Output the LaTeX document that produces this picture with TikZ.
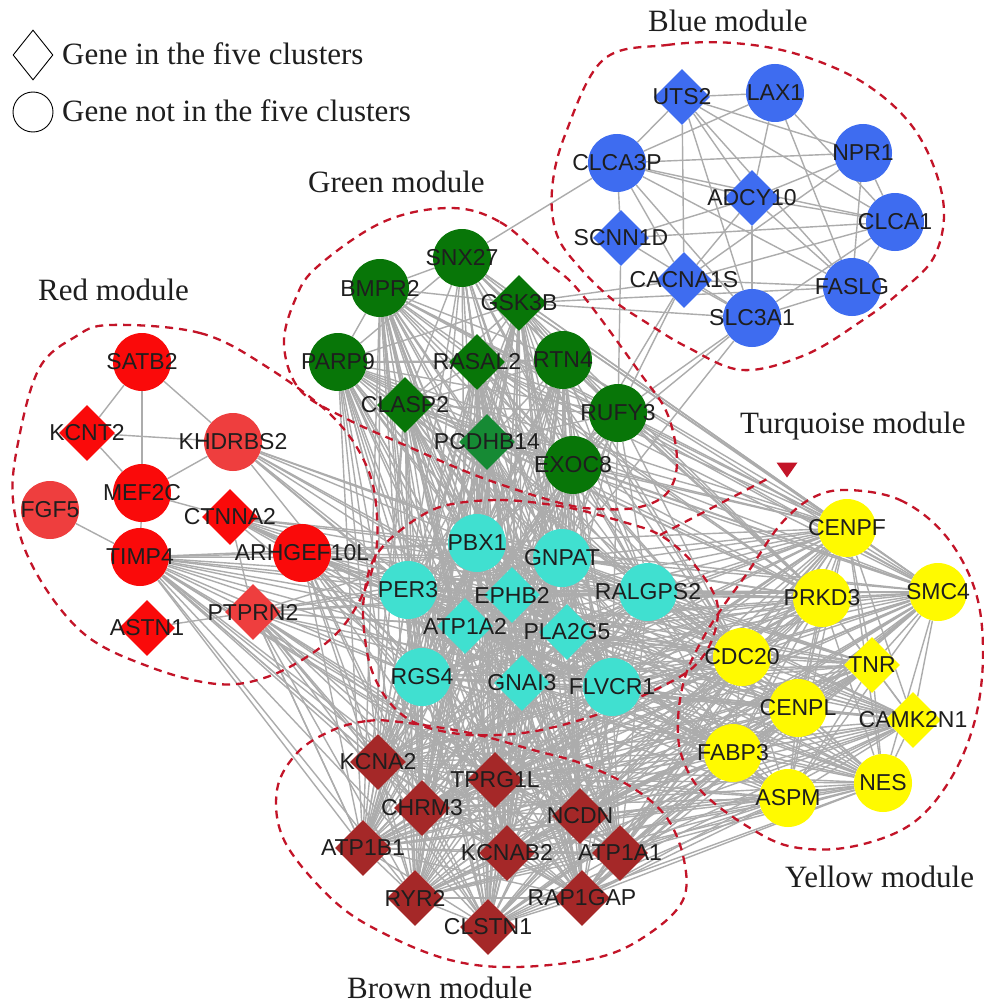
\documentclass[tikz,border=0pt]{standalone}
\usepackage{fontspec}
\setmainfont{Liberation Serif}
\newfontfamily\arialf{Liberation Sans}
\usetikzlibrary{shapes.geometric}
\definecolor{cblue}{RGB}{62,108,240}
\definecolor{cgreen}{RGB}{8,118,8}
\definecolor{cgreenl}{RGB}{22,138,52}
\definecolor{cred}{RGB}{250,10,10}
\definecolor{credl}{RGB}{238,62,62}
\definecolor{cturq}{RGB}{64,224,208}
\definecolor{cyell}{RGB}{255,250,0}
\definecolor{cbrown}{RGB}{165,40,40}
\definecolor{dred}{RGB}{195,20,40}
\definecolor{edgec}{RGB}{172,172,172}
\definecolor{txt}{RGB}{30,30,30}
\pgfdeclarelayer{edgelayer}
\pgfdeclarelayer{outlayer}
\pgfsetlayers{edgelayer,outlayer,main}
\newcommand\mycomplete[1]{%
  \foreach \a [count=\i] in #1{%
    \foreach \b [count=\j] in #1{%
      \ifnum\j>\i \draw[edge] (\a) -- (\b);\fi}}}
\newcommand\mybip[2]{%
  \foreach \a in #1{\foreach \b in #2{\draw[edge] (\a) -- (\b);}}}
\def\Blist{UTS2,LAX1,NPR1,CLCA3P,ADCY10,CLCA1,SCNN1D,CACNA1S,FASLG,SLC3A1}
\def\Glist{SNX27,BMPR2,GSK3B,PARP9,RASAL2,RTN4,CLASP2,RUFY3,PCDHB14,EXOC8}
\def\Tlist{PBX1,GNPAT,PER3,EPHB2,RALGPS2,ATP1A2,PLA2G5,RGS4,GNAI3,FLVCR1}
\def\Ylist{CENPF,SMC4,PRKD3,CDC20,TNR,CENPL,CAMK2N1,FABP3,NES,ASPM}
\def\Brlist{KCNA2,TPRG1L,CHRM3,NCDN,ATP1B1,KCNAB2,ATP1A1,RYR2,RAP1GAP,CLSTN1}
\def\Rsub{KHDRBS2,CTNNA2,TIMP4,ARHGEF10L,PTPRN2}
\def\Rsubb{TIMP4,ARHGEF10L,PTPRN2}
\def\Gsubb{BMPR2,PARP9,CLASP2,RASAL2,PCDHB14,RTN4,EXOC8,GSK3B}
\def\Ysub{CENPF,SMC4,PRKD3,CDC20}
\begin{document}
\begin{tikzpicture}[x=1pt,y=-1pt,
  circ/.style={circle,minimum size=58pt,inner sep=0pt,draw=none},
  diam/.style={diamond,minimum width=56pt,minimum height=56pt,inner sep=0pt,draw=none},
  lab/.style={font=\arialf\fontsize{23}{23}\selectfont,text=txt,inner sep=0pt},
  edge/.style={draw=edgec,line width=1.4pt},
  outl/.style={draw=dred,line width=2.3pt,dash pattern=on 8pt off 6pt},
  modlab/.style={font=\fontsize{31}{31}\selectfont,text=txt,inner sep=0pt,anchor=base west},
]
\useasboundingbox (0,0) rectangle (984,1006);
% ---------- legend ----------
\node[diamond,draw=black,line width=0.9pt,minimum width=40pt,minimum height=50pt,inner sep=0pt] (legd) at (33,55) {};
\node[circle,draw=black,line width=0.9pt,minimum size=40pt,inner sep=0pt] (legc) at (33,112) {};
\node[modlab] (legdt) at (62,65) {Gene in the five clusters};
\node[modlab] (legct) at (62,122) {Gene not in the five clusters};
% ---------- module labels ----------
\node[modlab] (mblue) at (648,32) {Blue module};
\node[modlab] (mgreen) at (308,192) {Green module};
\node[modlab] (mred) at (38,300) {Red module};
\node[modlab] (mturq) at (740,433) {Turquoise module};
\node[modlab] (myell) at (785,887) {Yellow module};
\node[modlab] (mbrown) at (347,998) {Brown module};
% ---------- blue ----------
\node[diam,fill=cblue,label={[lab]center:UTS2}] (UTS2) at (682,97) {};
\node[circ,fill=cblue,label={[lab]center:LAX1}] (LAX1) at (775,93) {};
\node[circ,fill=cblue,label={[lab]center:NPR1}] (NPR1) at (863,153) {};
\node[circ,fill=cblue,label={[lab]center:CLCA3P}] (CLCA3P) at (617,163) {};
\node[diam,fill=cblue,label={[lab]center:ADCY10}] (ADCY10) at (752,198) {};
\node[circ,fill=cblue,label={[lab]center:CLCA1}] (CLCA1) at (895,222) {};
\node[diam,fill=cblue,label={[lab]center:SCNN1D}] (SCNN1D) at (621,238) {};
\node[diam,fill=cblue,label={[lab]center:CACNA1S}] (CACNA1S) at (684,280) {};
\node[circ,fill=cblue,label={[lab]center:FASLG}] (FASLG) at (852,287) {};
\node[circ,fill=cblue,label={[lab]center:SLC3A1}] (SLC3A1) at (752,318) {};
% ---------- green ----------
\node[circ,fill=cgreen,label={[lab]center:SNX27}] (SNX27) at (462,258) {};
\node[circ,fill=cgreen,label={[lab]center:BMPR2}] (BMPR2) at (380,288) {};
\node[diam,fill=cgreen,label={[lab]center:GSK3B}] (GSK3B) at (519,303) {};
\node[circ,fill=cgreen,label={[lab]center:PARP9}] (PARP9) at (338,362) {};
\node[diam,fill=cgreen,label={[lab]center:RASAL2}] (RASAL2) at (477,362) {};
\node[circ,fill=cgreen,label={[lab]center:RTN4}] (RTN4) at (563,360) {};
\node[diam,fill=cgreen,label={[lab]center:CLASP2}] (CLASP2) at (405,405) {};
\node[circ,fill=cgreen,label={[lab]center:RUFY3}] (RUFY3) at (618,413) {};
\node[diam,fill=cgreenl,label={[lab]center:PCDHB14}] (PCDHB14) at (487,442) {};
\node[circ,fill=cgreen,label={[lab]center:EXOC8}] (EXOC8) at (573,465) {};
% ---------- red ----------
\node[circ,fill=cred,label={[lab]center:SATB2}] (SATB2) at (142,362) {};
\node[diam,fill=cred,label={[lab]center:KCNT2}] (KCNT2) at (87,433) {};
\node[circ,fill=credl,label={[lab]center:KHDRBS2}] (KHDRBS2) at (233,442) {};
\node[circ,fill=cred,label={[lab]center:MEF2C}] (MEF2C) at (142,493) {};
\node[circ,fill=credl,label={[lab]center:FGF5}] (FGF5) at (50,510) {};
\node[diam,fill=cred,label={[lab]center:CTNNA2}] (CTNNA2) at (230,517) {};
\node[circ,fill=cred,label={[lab]center:TIMP4}] (TIMP4) at (140,557) {};
\node[circ,fill=cred,label={[lab]center:ARHGEF10L}] (ARHGEF10L) at (302,553) {};
\node[diam,fill=credl,label={[lab]center:PTPRN2}] (PTPRN2) at (253,612) {};
\node[diam,fill=cred,label={[lab]center:ASTN1}] (ASTN1) at (147,628) {};
% ---------- turquoise ----------
\node[circ,fill=cturq,label={[lab]center:PBX1}] (PBX1) at (477,543) {};
\node[circ,fill=cturq,label={[lab]center:GNPAT}] (GNPAT) at (562,558) {};
\node[circ,fill=cturq,label={[lab]center:PER3}] (PER3) at (408,590) {};
\node[diam,fill=cturq,label={[lab]center:EPHB2}] (EPHB2) at (512,595) {};
\node[circ,fill=cturq,label={[lab]center:RALGPS2}] (RALGPS2) at (648,592) {};
\node[diam,fill=cturq,label={[lab]center:ATP1A2}] (ATP1A2) at (465,626) {};
\node[diam,fill=cturq,label={[lab]center:PLA2G5}] (PLA2G5) at (567,632) {};
\node[circ,fill=cturq,label={[lab]center:RGS4}] (RGS4) at (422,677) {};
\node[diam,fill=cturq,label={[lab]center:GNAI3}] (GNAI3) at (522,683) {};
\node[circ,fill=cturq,label={[lab]center:FLVCR1}] (FLVCR1) at (612,687) {};
% ---------- yellow ----------
\node[circ,fill=cyell,label={[lab]center:CENPF}] (CENPF) at (847,528) {};
\node[circ,fill=cyell,label={[lab]center:SMC4}] (SMC4) at (938,592) {};
\node[circ,fill=cyell,label={[lab]center:PRKD3}] (PRKD3) at (822,598) {};
\node[circ,fill=cyell,label={[lab]center:CDC20}] (CDC20) at (742,657) {};
\node[diam,fill=cyell,label={[lab]center:TNR}] (TNR) at (872,665) {};
\node[circ,fill=cyell,label={[lab]center:CENPL}] (CENPL) at (798,708) {};
\node[diam,fill=cyell,label={[lab]center:CAMK2N1}] (CAMK2N1) at (913,720) {};
\node[circ,fill=cyell,label={[lab]center:FABP3}] (FABP3) at (733,753) {};
\node[circ,fill=cyell,label={[lab]center:NES}] (NES) at (883,783) {};
\node[circ,fill=cyell,label={[lab]center:ASPM}] (ASPM) at (788,798) {};
% ---------- brown ----------
\node[diam,fill=cbrown,label={[lab]center:KCNA2}] (KCNA2) at (378,762) {};
\node[diam,fill=cbrown,label={[lab]center:TPRG1L}] (TPRG1L) at (495,780) {};
\node[diam,fill=cbrown,label={[lab]center:CHRM3}] (CHRM3) at (422,808) {};
\node[diam,fill=cbrown,label={[lab]center:NCDN}] (NCDN) at (580,816) {};
\node[diam,fill=cbrown,label={[lab]center:ATP1B1}] (ATP1B1) at (363,848) {};
\node[diam,fill=cbrown,label={[lab]center:KCNAB2}] (KCNAB2) at (507,853) {};
\node[diam,fill=cbrown,label={[lab]center:ATP1A1}] (ATP1A1) at (620,853) {};
\node[diam,fill=cbrown,label={[lab]center:RYR2}] (RYR2) at (415,898) {};
\node[diam,fill=cbrown,label={[lab]center:RAP1GAP}] (RAP1GAP) at (582,898) {};
\node[diam,fill=cbrown,label={[lab]center:CLSTN1}] (CLSTN1) at (488,927) {};
% ---------- pointer of turquoise module ----------
\coordinate (tcorner) at (660,535);
\coordinate (tlead) at (771,477);
\node[isosceles triangle,shape border rotate=-90,isosceles triangle apex angle=70,fill=dred,inner sep=0pt,minimum width=21pt,minimum height=15pt] (tri) at (787,468) {};
% ---------- edges ----------
\begin{pgfonlayer}{edgelayer}
\fill[white] (0,0) rectangle (984,1006);
\foreach \a/\b in {UTS2/LAX1,UTS2/CLCA3P,UTS2/NPR1,UTS2/ADCY10,UTS2/CLCA1,UTS2/FASLG,UTS2/SLC3A1,UTS2/CACNA1S,
  LAX1/CLCA3P,LAX1/ADCY10,LAX1/FASLG,LAX1/CLCA1,CLCA3P/NPR1,CLCA3P/ADCY10,CLCA3P/CLCA1,CLCA3P/SCNN1D,
  CLCA3P/CACNA1S,CLCA3P/SLC3A1,CLCA3P/FASLG,NPR1/ADCY10,NPR1/CLCA1,NPR1/FASLG,NPR1/CACNA1S,ADCY10/CLCA1,
  ADCY10/FASLG,ADCY10/SLC3A1,ADCY10/CACNA1S,ADCY10/SCNN1D,CLCA1/SCNN1D,CLCA1/CACNA1S,CLCA1/FASLG,
  CLCA1/SLC3A1,CACNA1S/FASLG,CACNA1S/SLC3A1,SLC3A1/FASLG,SCNN1D/SLC3A1,
  CLCA3P/SNX27,GSK3B/FASLG,GSK3B/SLC3A1,GSK3B/CACNA1S,SCNN1D/RUFY3,CACNA1S/RUFY3,CACNA1S/EXOC8,
  SLC3A1/EXOC8,SLC3A1/GNPAT,SLC3A1/RUFY3,
  SATB2/KCNT2,SATB2/MEF2C,SATB2/KHDRBS2,KCNT2/KHDRBS2,KCNT2/MEF2C,KHDRBS2/MEF2C,MEF2C/TIMP4,
  MEF2C/CTNNA2,FGF5/TIMP4,TIMP4/ARHGEF10L,TIMP4/PTPRN2,CTNNA2/PTPRN2,CTNNA2/ARHGEF10L,ASTN1/PTPRN2,
  PTPRN2/KCNA2,PTPRN2/ATP1B1,TIMP4/KCNA2}
  \draw[edge] (\a) -- (\b);
\mycomplete{\Glist}
\mycomplete{\Tlist}
\mycomplete{\Ylist}
\mycomplete{\Brlist}
\mybip{\Tlist}{\Brlist}
\mybip{\Tlist}{\Ylist}
\mybip{\Brlist}{\Ylist}
\mybip{\Glist}{\Tlist}
\mybip{\Gsubb}{\Brlist}
\mybip{\Glist}{\Ysub}
\mybip{\Rsub}{\Tlist}
\mybip{\Rsubb}{\Brlist}
\end{pgfonlayer}
% ---------- module outlines ----------
\begin{pgfonlayer}{outlayer}
\draw[outl] plot[smooth cycle,tension=0.6] coordinates {(603,60) (667,45) (733,43) (800,55) (867,85) (917,133) (943,200) (935,255) (900,292) (860,322) (805,355) (742,370) (687,347) (647,323) (613,300) (580,268) (557,235) (552,190) (565,135)};
\draw[outl] plot[smooth cycle,tension=0.6] coordinates {(450,208) (500,222) (547,262) (580,292) (640,373) (667,413) (677,460) (668,492) (640,507) (600,509) (560,503) (480,477) (400,443) (345,418) (300,390) (284,345) (295,300) (317,267) (383,222)};
\draw[outl] plot[smooth cycle,tension=0.6] coordinates {(110,325) (200,333) (267,367) (333,417) (367,467) (377,517) (373,567) (350,617) (317,650) (267,677) (217,684) (150,667) (83,633) (33,567) (13,500) (20,433) (40,367) (75,337)};
\draw[outl] plot[smooth cycle,tension=0.55] coordinates {(440,507) (500,500) (565,507) (620,521) (tcorner) (693,563) (717,602) (712,640) (690,670) (640,697) (590,717) (530,732) (470,735) (420,725) (390,703) (370,665) (363,610) (372,563) (397,533)};
\draw[outl] (tcorner) -- (tlead);
\draw[outl] plot[smooth cycle,tension=0.6] coordinates {(847,490) (900,500) (945,535) (975,590) (983,653) (975,720) (950,780) (910,825) (850,847) (793,847) (750,828) (703,793) (682,757) (678,720) (685,677) (702,640) (722,608) (748,572) (780,525) (812,498)};
\draw[outl] plot[smooth cycle,tension=0.6] coordinates {(333,730) (367,721) (400,722) (470,733) (533,750) (583,764) (633,788) (667,818) (684,860) (683,900) (650,933) (600,957) (517,967) (450,960) (383,933) (333,900) (285,842) (277,790) (298,752)};
\end{pgfonlayer}
\end{tikzpicture}
\end{document}
